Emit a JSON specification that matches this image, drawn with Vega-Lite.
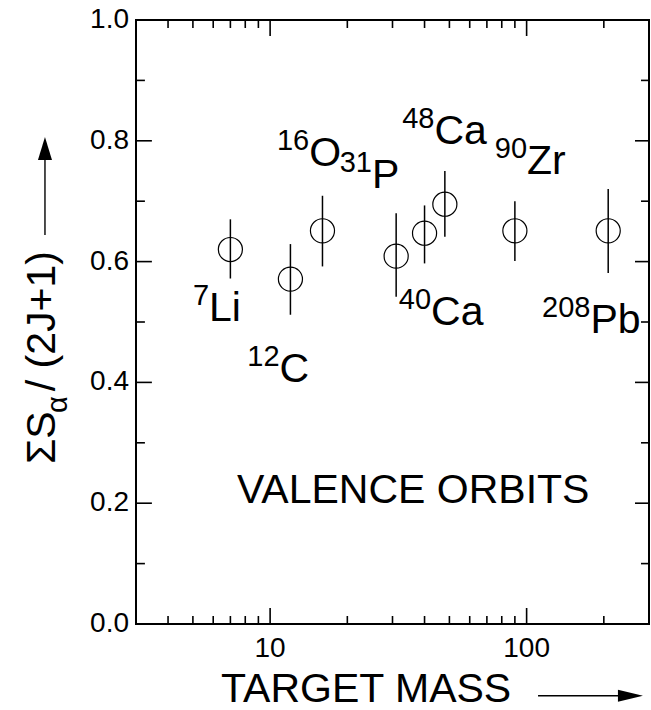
{
  "$schema": "https://vega.github.io/schema/vega-lite/v6.json",
  "width": 513,
  "height": 604,
  "autosize": {"type": "none"},
  "padding": {"left": 136, "top": 20, "right": 2, "bottom": 86},
  "background": "white",
  "config": {
    "view": {"stroke": "black", "strokeWidth": 2},
    "font": "Liberation Sans"
  },
  "datasets": {
    "points": [
      {"A": 7, "S": 0.620, "lo": 0.572, "hi": 0.670},
      {"A": 12, "S": 0.571, "lo": 0.512, "hi": 0.629},
      {"A": 16, "S": 0.651, "lo": 0.592, "hi": 0.709},
      {"A": 31, "S": 0.609, "lo": 0.542, "hi": 0.680},
      {"A": 40, "S": 0.647, "lo": 0.597, "hi": 0.693},
      {"A": 48, "S": 0.695, "lo": 0.641, "hi": 0.750},
      {"A": 90, "S": 0.651, "lo": 0.601, "hi": 0.700},
      {"A": 208, "S": 0.651, "lo": 0.581, "hi": 0.720}
    ],
    "labels": [
      {"num": "7", "sym": "Li", "x": 5.78, "y": 0.5017},
      {"num": "12", "sym": "C", "x": 10.88, "y": 0.4007},
      {"num": "16", "sym": "O", "x": 14.2, "y": 0.7583},
      {"num": "31", "sym": "P", "x": 24.95, "y": 0.7219},
      {"num": "48", "sym": "Ca", "x": 43.7, "y": 0.7947},
      {"num": "90", "sym": "Zr", "x": 100.4, "y": 0.745},
      {"num": "40", "sym": "Ca", "x": 42.4, "y": 0.495},
      {"num": "208", "sym": "Pb", "x": 177.4, "y": 0.4818}
    ],
    "xmajor": [{"v": 10}, {"v": 100}],
    "xminor": [{"v": 4}, {"v": 5}, {"v": 6}, {"v": 7}, {"v": 8}, {"v": 9}, {"v": 20}, {"v": 30}, {"v": 40}, {"v": 50}, {"v": 60}, {"v": 70}, {"v": 80}, {"v": 90}, {"v": 200}],
    "ymajor": [{"v": 0}, {"v": 0.2}, {"v": 0.4}, {"v": 0.6}, {"v": 0.8}, {"v": 1}],
    "yminor": [{"v": 0.1}, {"v": 0.3}, {"v": 0.5}, {"v": 0.7}, {"v": 0.9}]
  },
  "layer": [
    {
      "data": {"name": "points"},
      "mark": {"type": "rule", "strokeWidth": 1.5, "color": "black"},
      "encoding": {
        "x": {"field": "A", "type": "quantitative", "scale": {"type": "log", "domain": [3, 300], "nice": false}, "axis": null},
        "y": {"field": "lo", "type": "quantitative", "scale": {"domain": [0, 1], "nice": false, "zero": false}, "axis": null},
        "y2": {"field": "hi"}
      }
    },
    {
      "data": {"name": "points"},
      "mark": {"type": "point", "shape": "circle", "size": 580, "filled": false, "stroke": "black", "strokeWidth": 1.2, "opacity": 1},
      "encoding": {
        "x": {"field": "A", "type": "quantitative", "scale": {"type": "log", "domain": [3, 300], "nice": false}, "axis": null},
        "y": {"field": "S", "type": "quantitative", "scale": {"domain": [0, 1], "nice": false, "zero": false}, "axis": null}
      }
    },
    {
      "data": {"name": "xmajor"},
      "mark": {"type": "rule", "strokeWidth": 1.6, "color": "black"},
      "encoding": {
        "x": {"field": "v", "type": "quantitative", "scale": {"type": "log", "domain": [3, 300], "nice": false}, "axis": null},
        "y": {"datum": 0, "type": "quantitative", "scale": {"domain": [0, 1], "nice": false, "zero": false}, "axis": null},
        "y2": {"datum": 0.0265}
      }
    },
    {
      "data": {"name": "xmajor"},
      "mark": {"type": "rule", "strokeWidth": 1.6, "color": "black"},
      "encoding": {
        "x": {"field": "v", "type": "quantitative", "scale": {"type": "log", "domain": [3, 300], "nice": false}, "axis": null},
        "y": {"datum": 1, "type": "quantitative", "scale": {"domain": [0, 1], "nice": false, "zero": false}, "axis": null},
        "y2": {"datum": 0.9735}
      }
    },
    {
      "data": {"name": "xmajor"},
      "mark": {"type": "text", "align": "center", "baseline": "top", "dy": 11, "fontSize": 28, "font": "Liberation Sans", "color": "black"},
      "encoding": {
        "x": {"field": "v", "type": "quantitative", "scale": {"type": "log", "domain": [3, 300], "nice": false}, "axis": null},
        "y": {"datum": 0, "type": "quantitative", "scale": {"domain": [0, 1], "nice": false, "zero": false}, "axis": null},
        "text": {"field": "v", "type": "quantitative", "format": "d"}
      }
    },
    {
      "data": {"name": "xminor"},
      "mark": {"type": "rule", "strokeWidth": 1.6, "color": "black"},
      "encoding": {
        "x": {"field": "v", "type": "quantitative", "scale": {"type": "log", "domain": [3, 300], "nice": false}, "axis": null},
        "y": {"datum": 0, "type": "quantitative", "scale": {"domain": [0, 1], "nice": false, "zero": false}, "axis": null},
        "y2": {"datum": 0.0132}
      }
    },
    {
      "data": {"name": "xminor"},
      "mark": {"type": "rule", "strokeWidth": 1.6, "color": "black"},
      "encoding": {
        "x": {"field": "v", "type": "quantitative", "scale": {"type": "log", "domain": [3, 300], "nice": false}, "axis": null},
        "y": {"datum": 1, "type": "quantitative", "scale": {"domain": [0, 1], "nice": false, "zero": false}, "axis": null},
        "y2": {"datum": 0.9868}
      }
    },
    {
      "data": {"name": "ymajor"},
      "mark": {"type": "rule", "strokeWidth": 1.6, "color": "black"},
      "encoding": {
        "x": {"datum": 3, "type": "quantitative", "scale": {"type": "log", "domain": [3, 300], "nice": false}, "axis": null},
        "x2": {"datum": 3.46},
        "y": {"field": "v", "type": "quantitative", "scale": {"domain": [0, 1], "nice": false, "zero": false}, "axis": null}
      }
    },
    {
      "data": {"name": "ymajor"},
      "mark": {"type": "text", "align": "right", "baseline": "middle", "dx": -7, "fontSize": 28, "font": "Liberation Sans", "color": "black"},
      "encoding": {
        "x": {"datum": 3, "type": "quantitative", "scale": {"type": "log", "domain": [3, 300], "nice": false}, "axis": null},
        "y": {"field": "v", "type": "quantitative", "scale": {"domain": [0, 1], "nice": false, "zero": false}, "axis": null},
        "text": {"field": "v", "type": "quantitative", "format": ".1f"}
      }
    },
    {
      "data": {"name": "ymajor"},
      "mark": {"type": "rule", "strokeWidth": 1.6, "color": "black"},
      "encoding": {
        "x": {"datum": 300, "type": "quantitative", "scale": {"type": "log", "domain": [3, 300], "nice": false}, "axis": null},
        "x2": {"datum": 264.5},
        "y": {"field": "v", "type": "quantitative", "scale": {"domain": [0, 1], "nice": false, "zero": false}, "axis": null}
      }
    },
    {
      "data": {"name": "yminor"},
      "mark": {"type": "rule", "strokeWidth": 1.6, "color": "black"},
      "encoding": {
        "x": {"datum": 3, "type": "quantitative", "scale": {"type": "log", "domain": [3, 300], "nice": false}, "axis": null},
        "x2": {"datum": 3.25},
        "y": {"field": "v", "type": "quantitative", "scale": {"domain": [0, 1], "nice": false, "zero": false}, "axis": null}
      }
    },
    {
      "data": {"name": "yminor"},
      "mark": {"type": "rule", "strokeWidth": 1.6, "color": "black"},
      "encoding": {
        "x": {"datum": 300, "type": "quantitative", "scale": {"type": "log", "domain": [3, 300], "nice": false}, "axis": null},
        "x2": {"datum": 279.2},
        "y": {"field": "v", "type": "quantitative", "scale": {"domain": [0, 1], "nice": false, "zero": false}, "axis": null}
      }
    },
    {
      "data": {"name": "labels"},
      "mark": {"type": "text", "align": "right", "baseline": "alphabetic", "dy": -16, "fontSize": 29, "font": "Liberation Sans", "color": "black"},
      "encoding": {
        "x": {"field": "x", "type": "quantitative", "scale": {"type": "log", "domain": [3, 300], "nice": false}, "axis": null},
        "y": {"field": "y", "type": "quantitative", "scale": {"domain": [0, 1], "nice": false, "zero": false}, "axis": null},
        "text": {"field": "num"}
      }
    },
    {
      "data": {"name": "labels"},
      "mark": {"type": "text", "align": "left", "baseline": "alphabetic", "fontSize": 41, "font": "Liberation Sans", "color": "black"},
      "encoding": {
        "x": {"field": "x", "type": "quantitative", "scale": {"type": "log", "domain": [3, 300], "nice": false}, "axis": null},
        "y": {"field": "y", "type": "quantitative", "scale": {"domain": [0, 1], "nice": false, "zero": false}, "axis": null},
        "text": {"field": "sym"}
      }
    },
    {
      "data": {"values": [{"t": "VALENCE ORBITS", "x": 7.43, "y": 0.2}, {"t": "TARGET MASS", "x": 6.44, "y": -0.1291}]},
      "mark": {"type": "text", "align": "left", "baseline": "alphabetic", "fontSize": 41, "font": "Liberation Sans", "color": "black"},
      "encoding": {
        "x": {"field": "x", "type": "quantitative", "scale": {"type": "log", "domain": [3, 300], "nice": false}, "axis": null},
        "y": {"field": "y", "type": "quantitative", "scale": {"domain": [0, 1], "nice": false, "zero": false}, "axis": null},
        "text": {"field": "t"}
      }
    },
    {
      "data": {"values": [{"t": "ΣS", "x": 1.45, "y": 0.2649}, {"t": "/ (2J+1)", "x": 1.45, "y": 0.3855}]},
      "mark": {"type": "text", "align": "left", "baseline": "alphabetic", "angle": 270, "fontSize": 41, "font": "Liberation Sans", "color": "black"},
      "encoding": {
        "x": {"field": "x", "type": "quantitative", "scale": {"type": "log", "domain": [3, 300], "nice": false}, "axis": null},
        "y": {"field": "y", "type": "quantitative", "scale": {"domain": [0, 1], "nice": false, "zero": false}, "axis": null},
        "text": {"field": "t"}
      }
    },
    {
      "data": {"values": [{"t": "α", "x": 1.615, "y": 0.3493}]},
      "mark": {"type": "text", "align": "left", "baseline": "alphabetic", "angle": 270, "fontSize": 29, "font": "Liberation Sans", "color": "black"},
      "encoding": {
        "x": {"field": "x", "type": "quantitative", "scale": {"type": "log", "domain": [3, 300], "nice": false}, "axis": null},
        "y": {"field": "y", "type": "quantitative", "scale": {"domain": [0, 1], "nice": false, "zero": false}, "axis": null},
        "text": {"field": "t"}
      }
    },
    {
      "data": {"values": [{"x": 110.8, "x2": 231, "y": -0.1187, "y2": -0.1187}, {"x": 1.325, "x2": 1.325, "y": 0.644, "y2": 0.7715}]},
      "mark": {"type": "rule", "strokeWidth": 1.4, "color": "black"},
      "encoding": {
        "x": {"field": "x", "type": "quantitative", "scale": {"type": "log", "domain": [3, 300], "nice": false}, "axis": null},
        "x2": {"field": "x2"},
        "y": {"field": "y", "type": "quantitative", "scale": {"domain": [0, 1], "nice": false, "zero": false}, "axis": null},
        "y2": {"field": "y2"}
      }
    },
    {
      "data": {"values": [{"x": 254, "y": -0.1187}]},
      "mark": {"type": "point", "shape": "M-1,-0.48L1,0L-1,0.48Z", "size": 625, "filled": true, "color": "black", "opacity": 1, "strokeWidth": 0},
      "encoding": {
        "x": {"field": "x", "type": "quantitative", "scale": {"type": "log", "domain": [3, 300], "nice": false}, "axis": null},
        "y": {"field": "y", "type": "quantitative", "scale": {"domain": [0, 1], "nice": false, "zero": false}, "axis": null}
      }
    },
    {
      "data": {"values": [{"x": 1.325, "y": 0.7873}]},
      "mark": {"type": "point", "shape": "M-0.61,1L0,-1L0.61,1Z", "size": 529, "filled": true, "color": "black", "opacity": 1, "strokeWidth": 0},
      "encoding": {
        "x": {"field": "x", "type": "quantitative", "scale": {"type": "log", "domain": [3, 300], "nice": false}, "axis": null},
        "y": {"field": "y", "type": "quantitative", "scale": {"domain": [0, 1], "nice": false, "zero": false}, "axis": null}
      }
    }
  ]
}
